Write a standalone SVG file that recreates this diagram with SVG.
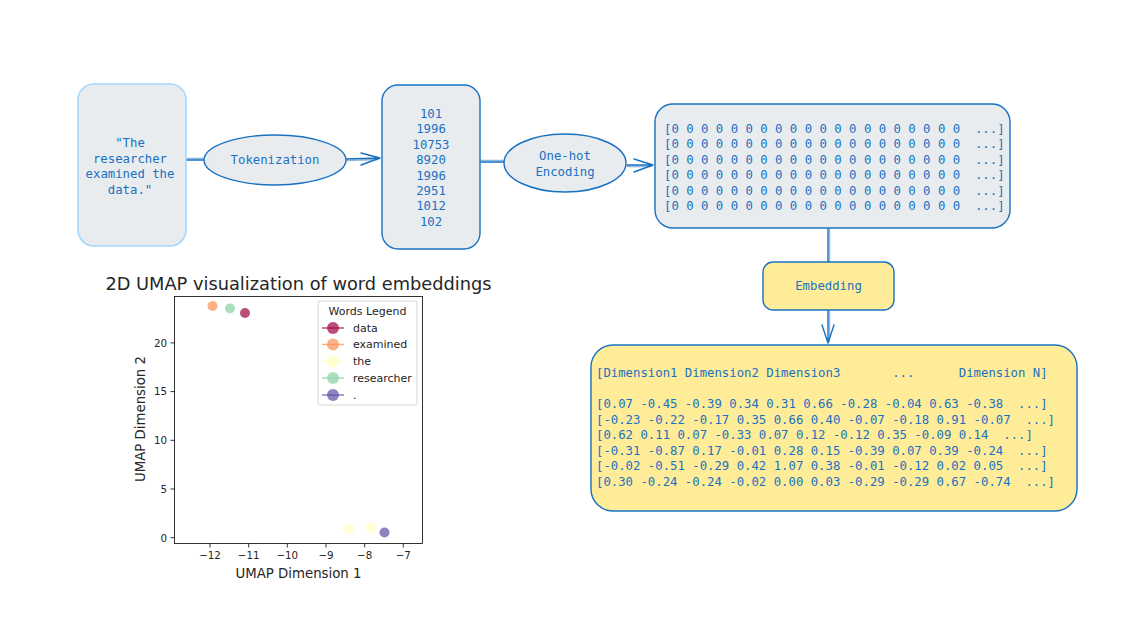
<svg xmlns="http://www.w3.org/2000/svg" width="1140" height="642" viewBox="0 0 1140 642">
<style>
.mono{font-family:"DejaVu Sans Mono","Liberation Mono",monospace;font-size:12.3px;fill:#1971c2;white-space:pre}
.mid{text-anchor:middle}
.node{stroke:#1971c2;stroke-width:1.4;fill:#e9ecef}
.yel{fill:#ffec99}
.conn{stroke:#1971c2;stroke-width:1.4;fill:none;stroke-linecap:round;stroke-linejoin:round}
.mpl{font-family:"DejaVu Sans",sans-serif;fill:#262626}
.tick{stroke:#000;stroke-width:0.8}
</style>
<rect width="1140" height="642" fill="#ffffff"/>

<g id="connectors">
  <path class="conn" d="M186 160 L204 160"/>
  <path class="conn" d="M186 158.5 L204 158.5" opacity="0.5"/>
  <path class="conn" d="M346 159 L380 158 M361 153 L380 158 L361 165"/>
  <path class="conn" d="M346 160.5 L378 159.5" opacity="0.5"/>
  <path class="conn" d="M481 162 L504 162"/>
  <path class="conn" d="M481 160.5 L504 160.5" opacity="0.5"/>
  <path class="conn" d="M627 165 L653 165 M634 159 L653 165 L634 172"/>
  <path class="conn" d="M627 166.5 L651 166.5" opacity="0.5"/>
  <path class="conn" d="M828 229 L828 262"/>
  <path class="conn" d="M829.5 229 L829.5 262" opacity="0.5"/>
  <path class="conn" d="M828 310 L828 343 M822 325 L828 343 L834 325"/>
  <path class="conn" d="M829.5 310 L829.5 341" opacity="0.5"/>
</g>

<g id="sentence">
  <rect x="78" y="84" width="108" height="162" rx="16" fill="#e9ecef" stroke="#a5d8ff" stroke-width="1.6"/>
  <text class="mono mid" x="130" y="147">"The</text>
  <text class="mono mid" x="130" y="163">researcher</text>
  <text class="mono mid" x="130" y="178">examined the</text>
  <text class="mono mid" x="130" y="194">data."</text>
</g>

<g id="tokenization">
  <ellipse class="node" cx="275" cy="160" rx="71" ry="25"/>
  <text class="mono mid" x="275" y="164">Tokenization</text>
</g>

<g id="token-ids">
  <rect class="node" x="382" y="85" width="98" height="164" rx="16"/>
  <text class="mono mid" x="431" y="118">101</text>
  <text class="mono mid" x="431" y="133.4">1996</text>
  <text class="mono mid" x="431" y="148.8">10753</text>
  <text class="mono mid" x="431" y="164.2">8920</text>
  <text class="mono mid" x="431" y="179.6">1996</text>
  <text class="mono mid" x="431" y="195">2951</text>
  <text class="mono mid" x="431" y="210.4">1012</text>
  <text class="mono mid" x="431" y="225.8">102</text>
</g>

<g id="one-hot-encoding">
  <ellipse class="node" cx="565" cy="163" rx="61" ry="29"/>
  <text class="mono mid" x="565" y="160">One-hot</text>
  <text class="mono mid" x="565" y="176">Encoding</text>
</g>

<g id="one-hot-matrix">
  <rect class="node" x="655" y="104" width="355" height="124" rx="18"/>
  <text class="mono" x="664" y="132.5" xml:space="preserve">[0 0 0 0 0 0 0 0 0 0 0 0 0 0 0 0 0 0 0 0  ...]</text>
  <text class="mono" x="664" y="148" xml:space="preserve">[0 0 0 0 0 0 0 0 0 0 0 0 0 0 0 0 0 0 0 0  ...]</text>
  <text class="mono" x="664" y="163.5" xml:space="preserve">[0 0 0 0 0 0 0 0 0 0 0 0 0 0 0 0 0 0 0 0  ...]</text>
  <text class="mono" x="664" y="179" xml:space="preserve">[0 0 0 0 0 0 0 0 0 0 0 0 0 0 0 0 0 0 0 0  ...]</text>
  <text class="mono" x="664" y="194.5" xml:space="preserve">[0 0 0 0 0 0 0 0 0 0 0 0 0 0 0 0 0 0 0 0  ...]</text>
  <text class="mono" x="664" y="210" xml:space="preserve">[0 0 0 0 0 0 0 0 0 0 0 0 0 0 0 0 0 0 0 0  ...]</text>
</g>

<g id="embedding">
  <rect class="node yel" x="763" y="262" width="131" height="48" rx="10"/>
  <text class="mono mid" x="828.5" y="290">Embedding</text>
</g>

<g id="embedding-matrix">
  <rect class="node yel" x="591" y="345" width="486" height="166" rx="22"/>
  <text class="mono" x="596" y="377" xml:space="preserve">[Dimension1 Dimension2 Dimension3       ...      Dimension N]</text>
  <text class="mono" x="596" y="408" xml:space="preserve">[0.07 -0.45 -0.39 0.34 0.31 0.66 -0.28 -0.04 0.63 -0.38  ...]</text>
  <text class="mono" x="596" y="423.5" xml:space="preserve">[-0.23 -0.22 -0.17 0.35 0.66 0.40 -0.07 -0.18 0.91 -0.07  ...]</text>
  <text class="mono" x="596" y="439" xml:space="preserve">[0.62 0.11 0.07 -0.33 0.07 0.12 -0.12 0.35 -0.09 0.14  ...]</text>
  <text class="mono" x="596" y="454.5" xml:space="preserve">[-0.31 -0.87 0.17 -0.01 0.28 0.15 -0.39 0.07 0.39 -0.24  ...]</text>
  <text class="mono" x="596" y="470" xml:space="preserve">[-0.02 -0.51 -0.29 0.42 1.07 0.38 -0.01 -0.12 0.02 0.05  ...]</text>
  <text class="mono" x="596" y="485.5" xml:space="preserve">[0.30 -0.24 -0.24 -0.02 0.00 0.03 -0.29 -0.29 0.67 -0.74  ...]</text>
</g>

<g id="umap-plot">
  <text class="mpl" x="298.5" y="290" font-size="17.8" text-anchor="middle" fill="#000">2D UMAP visualization of word embeddings</text>
  <g fill-opacity="0.7">
    <circle cx="212.5" cy="306" r="5" fill="#f98e52"/>
    <circle cx="230" cy="308.5" r="5" fill="#89d0a5"/>
    <circle cx="245" cy="313" r="5" fill="#9e0142"/>
    <circle cx="349" cy="529" r="5" fill="#ffffbf"/>
    <circle cx="371" cy="527.5" r="5" fill="#ffffbf"/>
    <circle cx="384.5" cy="532.5" r="5" fill="#5e4fa2"/>
  </g>
  <rect x="174.5" y="296.5" width="248" height="247" fill="none" stroke="#000" stroke-width="0.8"/>
  <path class="tick" d="M210 543.5v4M248.7 543.5v4M287.3 543.5v4M326 543.5v4M364.7 543.5v4M403.3 543.5v4"/>
  <g class="mpl" font-size="10.3" text-anchor="middle">
    <text x="210" y="559">−12</text>
    <text x="248.7" y="559">−11</text>
    <text x="287.3" y="559">−10</text>
    <text x="326" y="559">−9</text>
    <text x="364.7" y="559">−8</text>
    <text x="403.3" y="559">−7</text>
  </g>
  <path class="tick" d="M174.5 537.7h-4M174.5 489h-4M174.5 440.3h-4M174.5 391.6h-4M174.5 342.9h-4"/>
  <g class="mpl" font-size="10.3" text-anchor="end">
    <text x="167" y="541.5">0</text>
    <text x="167" y="492.8">5</text>
    <text x="167" y="444.1">10</text>
    <text x="167" y="395.4">15</text>
    <text x="167" y="346.7">20</text>
  </g>
  <text class="mpl" x="298.5" y="578" font-size="13.3" text-anchor="middle">UMAP Dimension 1</text>
  <text class="mpl" x="0" y="0" font-size="13.3" text-anchor="middle" transform="translate(145 419) rotate(-90)">UMAP Dimension 2</text>
  <g id="legend">
    <rect x="318" y="301" width="99" height="104" rx="2" fill="#ffffff" fill-opacity="0.8" stroke="#cccccc" stroke-width="0.8"/>
    <text class="mpl" x="367.5" y="315" font-size="11" text-anchor="middle">Words Legend</text>
    <g stroke-width="1.5" stroke-opacity="0.7" fill-opacity="0.7">
      <line x1="322" y1="328" x2="344" y2="328" stroke="#9e0142"/>
      <circle cx="333" cy="328" r="6" fill="#9e0142"/>
      <line x1="322" y1="344.5" x2="344" y2="344.5" stroke="#f98e52"/>
      <circle cx="333" cy="344.5" r="6" fill="#f98e52"/>
      <line x1="322" y1="361.5" x2="344" y2="361.5" stroke="#ffffbf"/>
      <circle cx="333" cy="361.5" r="6" fill="#ffffbf"/>
      <line x1="322" y1="378" x2="344" y2="378" stroke="#89d0a5"/>
      <circle cx="333" cy="378" r="6" fill="#89d0a5"/>
      <line x1="322" y1="395" x2="344" y2="395" stroke="#5e4fa2"/>
      <circle cx="333" cy="395" r="6" fill="#5e4fa2"/>
    </g>
    <g class="mpl" font-size="11">
      <text x="353" y="331.8">data</text>
      <text x="353" y="348.3">examined</text>
      <text x="353" y="365.3">the</text>
      <text x="353" y="381.8">researcher</text>
      <text x="353" y="398.8">.</text>
    </g>
  </g>
</g>
</svg>
